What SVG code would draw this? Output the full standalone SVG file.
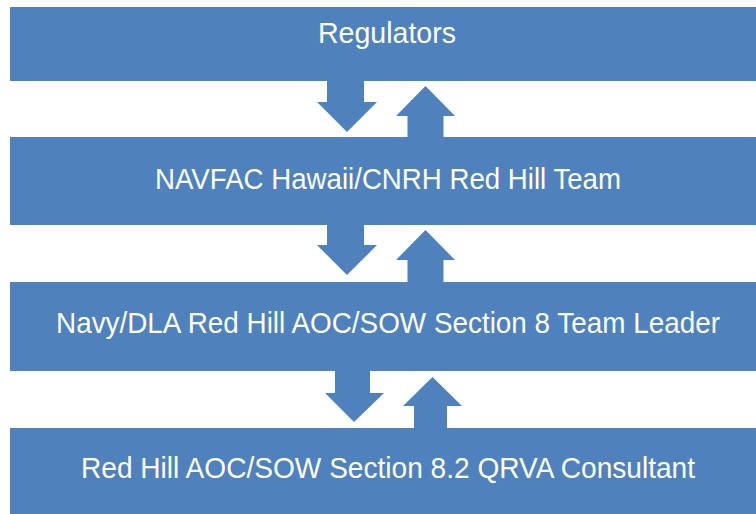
<svg xmlns="http://www.w3.org/2000/svg" width="756" height="514" viewBox="0 0 756 514">
<style>
.box{fill:#4F81BD;}
.arrow{fill:#4F81BD;}
.lbl{font-family:"Liberation Sans","Noto Sans",Arial,sans-serif;font-size:29px;fill:#FFFFFF;text-anchor:middle;}
</style>
<rect x="0" y="0" width="756" height="514" fill="#FFFFFF"/>
<g id="connectors">
<polygon class="arrow" points="327,78 364,78 364,102 377,102 347,132 317,102 327,102"/>
<polygon class="arrow" points="425.5,86 455,116 443.5,116 443.5,139 407.5,139 407.5,116 396,116"/>
<polygon class="arrow" points="327,223 364,223 364,245 377,245 347,275 317,245 327,245"/>
<polygon class="arrow" points="425.5,230 455,260 443.5,260 443.5,284 407.5,284 407.5,260 396,260"/>
<polygon class="arrow" points="335,369 370,369 370,393 384,393 354,422 325,393 335,393"/>
<polygon class="arrow" points="432.5,377 462,406 447,406 447,430 414,430 414,406 403,406"/>
</g>
<g id="regulators">
<rect class="box" x="10" y="7" width="746" height="74"/>
<text class="lbl" x="387" y="43" textLength="138" lengthAdjust="spacingAndGlyphs">Regulators</text>
</g>
<g id="navfac">
<rect class="box" x="10" y="137" width="746" height="88"/>
<text class="lbl" x="388" y="189" textLength="466" lengthAdjust="spacingAndGlyphs">NAVFAC Hawaii/CNRH Red Hill Team</text>
</g>
<g id="teamleader">
<rect class="box" x="10" y="282" width="746" height="89"/>
<text class="lbl" x="388" y="333" textLength="664" lengthAdjust="spacingAndGlyphs">Navy/DLA Red Hill AOC/SOW Section 8 Team Leader</text>
</g>
<g id="consultant">
<rect class="box" x="10" y="428" width="746" height="86"/>
<text class="lbl" x="388" y="478" textLength="614" lengthAdjust="spacingAndGlyphs">Red Hill AOC/SOW Section 8.2 QRVA Consultant</text>
</g>
</svg>
